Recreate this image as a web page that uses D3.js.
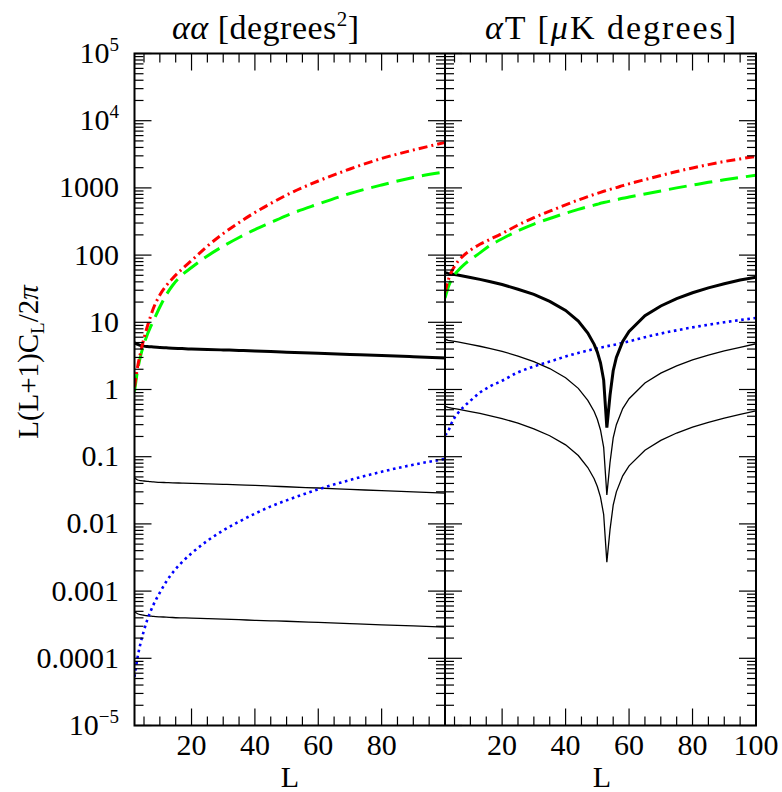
<!DOCTYPE html>
<html>
<head>
<meta charset="utf-8">
<script src="https://cdn.jsdelivr.net/npm/d3@7"></script>
<style>
  html, body { margin: 0; padding: 0; background: #fff; }
  svg { display: block; }
  text { font-family: "Liberation Serif", "DejaVu Serif", serif; fill: #000; }
</style>
</head>
<body>
<svg id="chart" width="782" height="792"></svg>
<script>
// ---------------- DATA ----------------
// Left panel: alpha-alpha [degrees^2]
const ellAA = [2,3,4,5,6,7,8,10,12,14,17,20,25,30,35,40,45,50,60,70,80,90,100];
const aaRed   = [1.09,2.2,3.7,5.8,8.5,12,16.3,25.5,35,45,62,83,136,209,305,430,586,784,1267,1911,2740,3660,4740];
const aaGreen = [0.93,1.95,3.26,4.75,6.5,8.4,10.6,16.9,25.5,35.3,50.6,65.4,97,136,183,240,305,388,575,826,1105,1430,1725];
const aaThick = [4.97,4.7,4.5,4.42,4.37,4.33,4.29,4.22,4.17,4.12,4.06,4.0,3.93,3.88,3.82,3.75,3.67,3.59,3.45,3.32,3.2,3.07,2.94];
const aaThin1 = [0.0487,0.045,0.044,0.0435,0.043,0.0425,0.0422,0.0416,0.0412,0.0408,0.0405,0.0402,0.0395,0.0388,0.0381,0.0375,0.0366,0.0357,0.0342,0.0327,0.0312,0.030,0.0288];
const aaThin2 = [0.000494,0.00046,0.000445,0.000437,0.00043,0.000425,0.00042,0.000414,0.00041,0.000405,0.0004,0.000396,0.000389,0.000382,0.000375,0.000368,0.000361,0.000356,0.000342,0.000328,0.000315,0.000303,0.000292];
const aaBlue  = [5.3e-5,1.05e-4,1.75e-4,2.6e-4,3.7e-4,4.9e-4,6.3e-4,9.5e-4,1.38e-3,1.87e-3,2.7e-3,3.65e-3,5.6e-3,8.0e-3,0.0108,0.0142,0.0182,0.0224,0.0327,0.045,0.0597,0.076,0.0925];

// Right panel: alpha-T [muK degrees]
const ellAT = [2,3,4,5,6,8,10,13,16,20,25,30,35,40,44,47,49,50,51,52,53,54,55,56,58,60,65,70,75,80,85,90,95,100];
const atRed   = [28,42,56,68,80,100,118,145,170,210,280,360,450,560,660,740,800,830,860,890,920,950,980,1010,1080,1150,1330,1530,1750,1980,2220,2470,2700,2950];
const atGreen = [23,33,43,51,58,72,86,108,138,175,230,290,350,420,480,525,555,570,590,605,620,635,650,665,700,730,810,900,1000,1100,1210,1320,1430,1550];
const atThick = [54.7,53.5,52.5,51.5,50.5,48.5,46.5,43.5,40.5,36.5,31,26,20.5,15,10.4,6.9,4.7,3.6,2.5,1.38,0.27,0.82,1.9,3.0,5.2,7.3,12.5,17.5,22.5,27.5,32.5,37.5,42.5,47];
const atThin1 = [5.6,5.4,5.3,5.2,5.1,4.9,4.7,4.4,4.1,3.7,3.15,2.6,2.05,1.5,1.04,0.69,0.47,0.36,0.25,0.138,0.027,0.082,0.19,0.30,0.52,0.73,1.25,1.75,2.25,2.75,3.25,3.75,4.25,4.8];
const atThin2 = [0.56,0.54,0.53,0.52,0.51,0.49,0.47,0.44,0.41,0.37,0.315,0.26,0.205,0.15,0.104,0.069,0.047,0.036,0.025,0.0138,0.0027,0.0082,0.019,0.030,0.052,0.073,0.125,0.175,0.225,0.275,0.325,0.375,0.425,0.48];
const atBlue  = [0.21,0.24,0.31,0.38,0.44,0.56,0.68,0.9,1.1,1.35,1.8,2.2,2.6,3.1,3.5,3.8,4.0,4.1,4.2,4.3,4.4,4.5,4.6,4.7,4.95,5.2,6.0,6.8,7.6,8.4,9.2,10.0,10.8,11.6];

// Axis ticks / labels
const xMinorTicks = [5,10,15,20,25,30,35,40,45,50,55,60,65,70,75,80,85,90,95];
const xMajorTicks = [20,40,60,80,100];
const xLabelsLeft = [20,40,60,80];
const xLabelsRight = [20,40,60,80,100];
const yDecades = [-5,-4,-3,-2,-1,0,1,2,3,4,5];
const yTickLabels = ["10^5","10^4","1000","100","10","1","0.1","0.01","0.001","0.0001","10^-5"];
const yTickValues = [1e5,1e4,1000,100,10,1,0.1,0.01,0.001,0.0001,1e-5];

// ---------------- DRAWING ----------------
const svg = d3.select("#chart");
const yTop = 53.5, yBot = 725.5;
const x0 = 134.5, xMid = 445, x1 = 756;

const y = d3.scaleLog().domain([1e-5, 1e5]).range([yBot, yTop]);
const xL = d3.scaleLinear().domain([2, 100]).range([x0, xMid]);
const xR = d3.scaleLinear().domain([2, 100]).range([xMid, x1]);

const defs = svg.append("defs");
defs.append("clipPath").attr("id", "clipL").append("rect")
  .attr("x", x0).attr("y", yTop).attr("width", xMid - x0).attr("height", yBot - yTop);
defs.append("clipPath").attr("id", "clipR").append("rect")
  .attr("x", xMid).attr("y", yTop).attr("width", x1 - xMid).attr("height", yBot - yTop);

function series(g, xs, ell, vals, style, curve) {
  const line = d3.line()
    .x((d, i) => xs(ell[i]))
    .y(d => y(d))
    .curve(curve || d3.curveMonotoneX);
  const p = g.append("path").datum(vals).attr("d", line)
    .attr("fill", "none").attr("stroke", style.color)
    .attr("stroke-width", style.width);
  if (style.dash) p.attr("stroke-dasharray", style.dash);
  return p;
}

const stRed   = {color: "#ff0000", width: 3, dash: "9,4,2,4"};
const stGreen = {color: "#00ff00", width: 3, dash: "18,8"};
const stThick = {color: "#000000", width: 3};
const stThin  = {color: "#000000", width: 1.3};
const stBlue  = {color: "#0000ff", width: 2.6, dash: "2.6,3.6"};

const gL = svg.append("g").attr("clip-path", "url(#clipL)");
series(gL, xL, ellAA, aaThin2, stThin);
series(gL, xL, ellAA, aaThin1, stThin);
series(gL, xL, ellAA, aaBlue, stBlue);
series(gL, xL, ellAA, aaThick, stThick);
series(gL, xL, ellAA, aaGreen, stGreen);
series(gL, xL, ellAA, aaRed, stRed);

const gR = svg.append("g").attr("clip-path", "url(#clipR)");
series(gR, xR, ellAT, atThin2, stThin, d3.curveLinear);
series(gR, xR, ellAT, atThin1, stThin, d3.curveLinear);
series(gR, xR, ellAT, atBlue, stBlue);
series(gR, xR, ellAT, atThick, stThick, d3.curveLinear);
series(gR, xR, ellAT, atGreen, stGreen);
series(gR, xR, ellAT, atRed, stRed);

// ticks
const gT = svg.append("g").attr("stroke", "#000").attr("stroke-width", 1.2);
const majLen = 17, minLen = 9;
function yTicks(xEdge, dir) {
  yDecades.forEach(k => {
    const v = Math.pow(10, k);
    gT.append("line").attr("x1", xEdge).attr("x2", xEdge + dir * majLen)
      .attr("y1", y(v)).attr("y2", y(v));
    if (k < 5) {
      for (let m = 2; m <= 9; m++) {
        const yy = y(m * v);
        gT.append("line").attr("x1", xEdge).attr("x2", xEdge + dir * minLen)
          .attr("y1", yy).attr("y2", yy);
      }
    }
  });
}
yTicks(x0, 1);
yTicks(xMid, -1);
yTicks(xMid, 1);
yTicks(x1, -1);

function xTicks(xs) {
  xMinorTicks.forEach(t => {
    const len = xMajorTicks.includes(t) ? majLen : minLen;
    gT.append("line").attr("x1", xs(t)).attr("x2", xs(t)).attr("y1", yBot).attr("y2", yBot - len);
    gT.append("line").attr("x1", xs(t)).attr("x2", xs(t)).attr("y1", yTop).attr("y2", yTop + len);
  });
}
xTicks(xL);
xTicks(xR);

// frame
svg.append("rect").attr("x", x0).attr("y", yTop).attr("width", x1 - x0).attr("height", yBot - yTop)
  .attr("fill", "none").attr("stroke", "#000").attr("stroke-width", 2);
svg.append("line").attr("x1", xMid).attr("x2", xMid).attr("y1", yTop).attr("y2", yBot)
  .attr("stroke", "#000").attr("stroke-width", 2);

// y tick labels
const fs = 30;
yTickLabels.forEach((lab, i) => {
  const yy = y(yTickValues[i]);
  const t = svg.append("text").attr("x", 119).attr("y", yy + 9.5)
    .attr("text-anchor", "end").attr("font-size", fs);
  if (lab.startsWith("10^")) {
    const exp = lab.slice(3).replace("-", "\u2212");
    t.append("tspan").text("10");
    t.append("tspan").attr("dy", -12).attr("font-size", 19).text(exp);
  } else {
    t.text(lab);
  }
});

// x tick labels
xLabelsLeft.forEach(v => {
  svg.append("text").attr("x", xL(v)).attr("y", 755).attr("text-anchor", "middle")
    .attr("font-size", fs).text(v);
});
xLabelsRight.forEach(v => {
  svg.append("text").attr("x", xR(v)).attr("y", 755).attr("text-anchor", "middle")
    .attr("font-size", fs).text(v);
});

// x axis titles
svg.append("text").attr("x", 290).attr("y", 787).attr("text-anchor", "middle").attr("font-size", fs).text("L");
svg.append("text").attr("x", 602).attr("y", 787).attr("text-anchor", "middle").attr("font-size", fs).text("L");

// y axis title
const yt = svg.append("text")
  .attr("transform", "translate(38,362) rotate(-90)")
  .attr("text-anchor", "middle").attr("font-size", 29);
yt.append("tspan").text("L(L+1)C");
yt.append("tspan").attr("dy", 6).attr("font-size", 19).text("L");
yt.append("tspan").attr("dy", -6).text("/2");
yt.append("tspan").attr("font-style", "italic").text("\u03C0");

// panel titles
const t1 = svg.append("text").attr("x", 172).attr("y", 39).attr("font-size", 34)
  .attr("letter-spacing", 0.5);
t1.append("tspan").attr("font-style", "italic").text("\u03B1\u03B1");
t1.append("tspan").text(" [degrees");
t1.append("tspan").attr("dy", -13).attr("font-size", 21).text("2");
t1.append("tspan").attr("dy", 13).text("]");

const t2 = svg.append("text").attr("x", 485).attr("y", 39).attr("font-size", 34)
  .attr("letter-spacing", 2);
t2.append("tspan").attr("font-style", "italic").text("\u03B1");
t2.append("tspan").text("T [");
t2.append("tspan").attr("font-style", "italic").text("\u03BC");
t2.append("tspan").text("K degrees]");
</script>
</body>
</html>
